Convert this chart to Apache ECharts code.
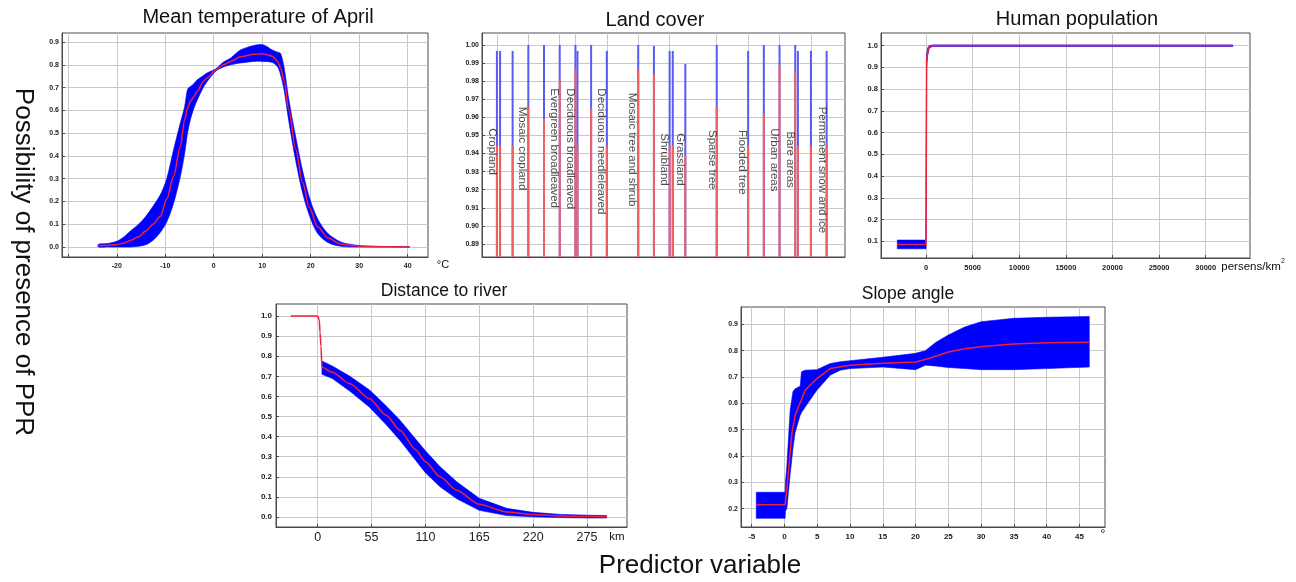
<!DOCTYPE html>
<html><head><meta charset="utf-8">
<script src="https://cdn.jsdelivr.net/npm/echarts@6/dist/echarts.min.js"></script>
<style>html,body{margin:0;padding:0;background:#fff}#c{width:1296px;height:582px}</style>
</head><body><div id="c"></div>
<script>
// ---------- Panel 1: Mean temperature of April ----------
const tempX   = [-23.8,-22,-20,-18.5,-17.2,-15.5,-14,-12.5,-11,-9.7,-8.3,-6.9,-6.0,-5.4,-4.8,-4.2,-3.4,-2.2,-1.4,0.35,2,3.5,5.5,8.3,10.2,12.1,13.2,13.8,14.5,15.5,16.9,18.3,19.7,21.4,23.5,26.2,29,32,36,40.4];
const tempLo  = [0,0,0,0,0,0.003,0.01,0.03,0.065,0.11,0.19,0.308,0.41,0.5,0.56,0.602,0.645,0.698,0.725,0.771,0.79,0.8,0.808,0.815,0.815,0.81,0.79,0.755,0.69,0.55,0.38,0.24,0.14,0.06,0.02,0.003,0,0,0,0];
const tempMid = [0.006,0.007,0.01,0.017,0.028,0.045,0.07,0.1,0.135,0.21,0.31,0.44,0.56,0.61,0.64,0.658,0.683,0.725,0.742,0.776,0.8,0.815,0.835,0.846,0.848,0.838,0.815,0.785,0.73,0.6,0.43,0.285,0.175,0.09,0.04,0.013,0.005,0.002,0.001,0];
const tempHi  = [0.012,0.015,0.025,0.045,0.07,0.1,0.135,0.18,0.23,0.3,0.426,0.544,0.617,0.693,0.705,0.715,0.734,0.752,0.764,0.781,0.812,0.83,0.865,0.885,0.888,0.865,0.855,0.85,0.79,0.646,0.485,0.338,0.22,0.125,0.06,0.022,0.009,0.004,0.002,0.001];
const tempXTicks  = [-30,-20,-10,0,10,20,30,40];
const tempXLabels = [-20,-10,0,10,20,30,40];
const tempYTicks  = [0,0.1,0.2,0.3,0.4,0.5,0.6,0.7,0.8,0.9];

// ---------- Panel 2: Land cover ----------
const landSlots = [0,0.2,1,2,3,4,5,5.13,6,7,9,10,11,11.2,12,14,16,17,18,19,19.17,20,21];
const landTop   = [0.9967,0.9967,0.9967,1.0,1.0,1.0,1.0,0.9967,1.0,0.9967,1.0,0.9994,0.9967,0.9967,0.9895,1.0,0.9967,1.0,1.0,1.0,0.9967,0.9967,0.9967];
const landMean  = [0.9444,0.9444,0.9444,0.9659,0.9591,0.981,0.9866,0.9444,0.9648,0.9444,0.9862,0.984,0.9444,0.9444,0.9388,0.966,0.9444,0.962,0.9888,0.9853,0.9444,0.9444,0.9444];
const landNames = ['Cropland','Mosaic cropland','Evergreen broadleaved','Deciduous broadleaved','Deciduous needleleaved','Mosaic tree and shrub','Shrubland','Grassland','Sparse tree','Flooded tree','Urban areas','Bare areas','Permanent snow and ice'];
const landNameX = [-0.32,1.59,3.67,4.67,6.62,8.63,10.65,11.67,13.68,15.59,17.65,18.67,20.69];
const landNameY = [0.954,0.9659,0.976,0.976,0.976,0.9736,0.9512,0.9512,0.953,0.953,0.954,0.9521,0.9659];
const landGridSlots = [0,2,4,5,7,9,11,14,16,18,20];
const landYTicks = [0.89,0.90,0.91,0.92,0.93,0.94,0.95,0.96,0.97,0.98,0.99,1.00];

// ---------- Panel 3: Human population ----------
const popX   = [-3080,0,30,60,180,360,720,32900];
const popMid = [0.086,0.086,0.5,0.93,0.975,0.997,1.0,1.0];
const popLo  = [0.066,0.066,0.47,0.9,0.955,0.99,0.996,0.996];
const popHi  = [0.106,0.106,0.53,0.96,0.99,1.0,1.003,1.003];
const popXTicks = [0,5000,10000,15000,20000,25000,30000];
const popYTicks = [0.1,0.2,0.3,0.4,0.5,0.6,0.7,0.8,0.9,1.0];

// ---------- Panel 4: Distance to river ----------
const riverX   = [-27.5,0,1.7,2.4,3.4,4.4,15,33,53,70,84,100,110,125,142,165,193,220,248,275,295];
const riverMid = [1,1,0.98,0.92,0.85,0.745,0.72,0.663,0.589,0.506,0.432,0.335,0.275,0.2,0.133,0.063,0.025,0.012,0.005,0.002,0.001];
const riverBandX = [4.4,15,33,53,70,84,100,110,125,142,165,193,220,248,275,295];
const riverLo  = [0.71,0.689,0.626,0.546,0.459,0.382,0.282,0.22,0.15,0.091,0.033,0.007,0.001,-0.003,-0.005,-0.005];
const riverHi  = [0.776,0.751,0.7,0.632,0.553,0.482,0.388,0.33,0.25,0.175,0.093,0.043,0.023,0.013,0.009,0.007];
const riverXTicks = [0,55,110,165,220,275];
const riverYTicks = [0,0.1,0.2,0.3,0.4,0.5,0.6,0.7,0.8,0.9,1.0];

// ---------- Panel 5: Slope angle ----------
const slopeX   = [-4.3,0.1,0.36,1.13,1.63,3.16,4.94,6.97,10,15,20,22,25,27.5,30,32.5,35,40,46.5];
const slopeMid = [0.215,0.215,0.272,0.485,0.555,0.65,0.694,0.732,0.745,0.752,0.757,0.77,0.795,0.807,0.815,0.821,0.825,0.83,0.832];
const slopeBandX = [-4.3,0.1,0.15,0.36,0.87,1.3,1.63,2.4,2.6,3.16,4.94,6.97,8.5,10,15,20,21.5,23,25,27.5,30,35,40,46.5];
const slopeLo  = [0.163,0.163,0.19,0.2,0.33,0.43,0.49,0.555,0.565,0.586,0.65,0.707,0.726,0.732,0.738,0.728,0.745,0.742,0.736,0.732,0.728,0.728,0.732,0.738];
const slopeHi  = [0.262,0.262,0.3,0.36,0.574,0.645,0.655,0.665,0.72,0.726,0.728,0.751,0.758,0.762,0.775,0.79,0.80,0.83,0.86,0.89,0.91,0.923,0.927,0.93];
const slopeXTicks = [-5,0,5,10,15,20,25,30,35,40,45];
const slopeYTicks = [0.2,0.3,0.4,0.5,0.6,0.7,0.8,0.9];

// ---------- styling ----------
const FONT = '"Liberation Sans", Arial, sans-serif';
const BLUE = '#0000ff';
const RED = '#f0203c';
const GRIDC = '#c8c8c8';
const BORDER = '#4a4a4a';

const grids = [
  {left:62,  top:33,  width:366, height:224},
  {left:482, top:33,  width:363, height:224},
  {left:881, top:33,  width:369, height:225},
  {left:276, top:304, width:351, height:223},
  {left:741, top:307, width:364, height:220}
].map(g => Object.assign({show:true, borderColor:BORDER, borderWidth:1, backgroundColor:'transparent'}, g));

function axis(kind, gi, min, max, ticks, labels, lab) {
  return {
    type:'value', gridIndex:gi, min:min, max:max,
    axisLine:{show:true, onZero:false, lineStyle:{color:BORDER}},
    axisTick:{show:true, inside:true, length:3, customValues:ticks, lineStyle:{color:BORDER}},
    axisLabel:Object.assign({
      show: labels !== null, customValues: labels || [], margin: kind === 'x' ? 6 : 3,
      fontFamily:FONT, fontSize:7, fontWeight:'bold', color:'#222',
      formatter: v => String(v)
    }, lab || {}),
    splitLine:{show:true, lineStyle:{color:GRIDC, width:1}}
  };
}
const f1 = v => v.toFixed(1), f2 = v => v.toFixed(2);

const xAxes = [
  axis('x',0,-31.3,44.2,tempXTicks,tempXLabels),
  axis('x',1,-0.95,22.17,landGridSlots,null),
  axis('x',2,-4830,34750,popXTicks,popXTicks,{fontSize:7.5}),
  axis('x',3,-42.5,315.8,riverXTicks,riverXTicks,{fontSize:12.5, fontWeight:'normal', margin:4}),
  axis('x',4,-6.63,48.9,slopeXTicks,slopeXTicks,{fontSize:8})
];
const yAxes = [
  axis('y',0,-0.044,0.9396,tempYTicks,tempYTicks,{formatter:f1}),
  axis('y',1,0.8828,1.0066,landYTicks,landYTicks,{formatter:f2}),
  axis('y',2,0.0236,1.058,popYTicks,popYTicks,{formatter:f1, fontSize:7.5}),
  axis('y',3,-0.0498,1.06,riverYTicks,riverYTicks,{formatter:f1, fontSize:8, margin:4}),
  axis('y',4,0.13,0.966,slopeYTicks,slopeYTicks,{formatter:f1})
];

function band(gi, xs, lo, hi, smooth) {
  return {
    type:'custom', xAxisIndex:gi, yAxisIndex:gi, silent:true, clip:true, z:2,
    data: xs.map((x,i) => [x, lo[i], hi[i]]),
    encode:{x:0, y:[1,2]},
    renderItem: function (params, api) {
      if (params.dataIndex !== 0) return null;
      const pts = [];
      for (let i = 0; i < xs.length; i++) pts.push(api.coord([xs[i], hi[i]]));
      for (let i = xs.length - 1; i >= 0; i--) pts.push(api.coord([xs[i], lo[i]]));
      return {type:'polygon', shape:{points:pts, smooth:smooth || 0}, style:{fill:BLUE, stroke:BLUE, lineWidth:0.6}};
    }
  };
}
function redLine(gi, xs, ys, smooth) {
  return {
    type:'line', xAxisIndex:gi, yAxisIndex:gi, silent:true, z:3,
    data: xs.map((x,i) => [x, ys[i]]),
    symbol:'none', showSymbol:false, smooth:smooth, smoothMonotone:'x',
    lineStyle:{color:RED, width:1.5}
  };
}

const series = [
  band(0, tempX, tempLo, tempHi, 0.3),
  redLine(0, tempX, tempMid, 0.3),
  {
    type:'bar', xAxisIndex:1, yAxisIndex:1, silent:true, barWidth:2, barGap:'-100%',
    data: landSlots.map((s,i) => [s, landTop[i]]),
    itemStyle:{color:'#5a5af5'}
  },
  {
    type:'bar', xAxisIndex:1, yAxisIndex:1, silent:true, barWidth:2, barGap:'-100%',
    data: landSlots.map((s,i) => [s, landMean[i]]),
    itemStyle:{color:'#f06060'}
  },
  {
    type:'scatter', xAxisIndex:1, yAxisIndex:1, silent:true, symbolSize:1, z:5,
    itemStyle:{color:'rgba(0,0,0,0)'},
    data: landNames.map((n,i) => ({name:n, value:[landNameX[i], landNameY[i]]})),
    label:{show:true, position:'inside', formatter:'{b}', rotate:-90, align:'left', verticalAlign:'middle',
      fontFamily:FONT, fontSize:11.5, color:'#222'}
  },
  band(2, popX, popLo, popHi, 0),
  redLine(2, popX, popMid, false),
  band(3, riverBandX, riverLo, riverHi, 0),
  redLine(3, riverX, riverMid, 0.25),
  band(4, slopeBandX, slopeLo, slopeHi, 0),
  redLine(4, slopeX, slopeMid, false)
];

function txt(t, x, y, size, extra) {
  return Object.assign({type:'text', x:x, y:y, silent:true,
    style:{text:t, font: size + 'px ' + FONT, fill:'#111', align:'center', verticalAlign:'middle'}}, extra || {});
}
const graphic = [
  txt('Mean temperature of April', 258, 17, 20),
  txt('Land cover', 655, 20, 20),
  txt('Human population', 1077, 19.5, 20),
  txt('Distance to river', 444, 291, 17.5),
  txt('Slope angle', 908, 294.5, 17.5),
  txt('Predictor variable', 700, 566, 26),
  txt('Possibility of presence of PPR', 23, 262, 26, {rotation:-Math.PI/2}),
  txt('°C', 443, 265, 11),
  txt('persens/km', 1251, 267, 11.5),
  txt('2', 1283, 261, 7),
  txt('km', 617, 537, 11.5),
  txt('°', 1103, 535, 12)
];

const chart = echarts.init(document.getElementById('c'), null, {renderer:'canvas'});
chart.setOption({
  animation:false,
  backgroundColor:'#fff',
  grid: grids,
  xAxis: xAxes,
  yAxis: yAxes,
  series: series,
  graphic: graphic
});
</script></body></html>
